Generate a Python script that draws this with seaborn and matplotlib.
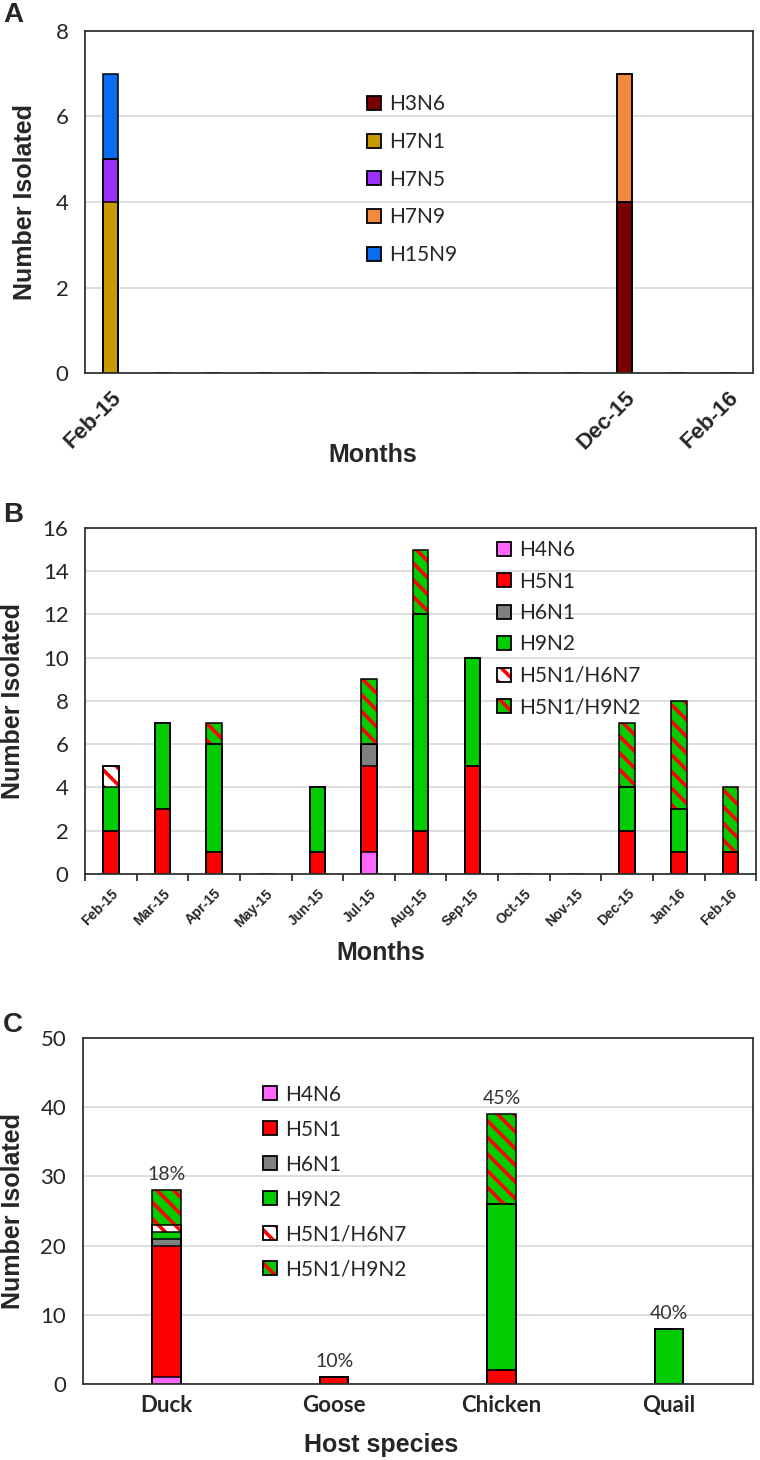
"""
Avian influenza isolates: subtypes by month (A, B) and by host species (C).
Stacked bars drawn with seaborn by overlaying cumulative totals.
"""

import numpy as np
import pandas as pd
import matplotlib
matplotlib.use("Agg")
import matplotlib.pyplot as plt
import seaborn as sns
from matplotlib.patches import Patch
from matplotlib.legend_handler import HandlerTuple

# ==================================================
# 1. DATA
# ==================================================
months = ["Feb-15", "Mar-15", "Apr-15", "May-15", "Jun-15", "Jul-15", "Aug-15",
          "Sep-15", "Oct-15", "Nov-15", "Dec-15", "Jan-16", "Feb-16"]
a_tick_labels = ["Feb-15", "Dec-15", "Feb-16"]

# panel A subtypes (stack order bottom -> top)
a_subtypes = ["H3N6", "H7N1", "H7N5", "H7N9", "H15N9"]
a_H3N6  = [0, 0, 0, 0, 0, 0, 0, 0, 0, 0, 4, 0, 0]
a_H7N1  = [4, 0, 0, 0, 0, 0, 0, 0, 0, 0, 0, 0, 0]
a_H7N5  = [1, 0, 0, 0, 0, 0, 0, 0, 0, 0, 0, 0, 0]
a_H7N9  = [0, 0, 0, 0, 0, 0, 0, 0, 0, 0, 3, 0, 0]
a_H15N9 = [2, 0, 0, 0, 0, 0, 0, 0, 0, 0, 0, 0, 0]

# panel B / C subtypes
bc_subtypes = ["H4N6", "H5N1", "H6N1", "H9N2", "H5N1/H6N7", "H5N1/H9N2"]
b_H4N6      = [0, 0, 0, 0, 0, 1, 0, 0, 0, 0, 0, 0, 0]
b_H5N1      = [2, 3, 1, 0, 1, 4, 2, 5, 0, 0, 2, 1, 1]
b_H6N1      = [0, 0, 0, 0, 0, 1, 0, 0, 0, 0, 0, 0, 0]
b_H9N2      = [2, 4, 5, 0, 3, 0, 10, 5, 0, 0, 2, 2, 0]
b_H5N1_H6N7 = [1, 0, 0, 0, 0, 0, 0, 0, 0, 0, 0, 0, 0]
b_H5N1_H9N2 = [0, 0, 1, 0, 0, 3, 3, 0, 0, 0, 3, 5, 3]

hosts = ["Duck", "Goose", "Chicken", "Quail"]
c_H4N6      = [1, 0, 0, 0]
c_H5N1      = [19, 1, 2, 0]
c_H6N1      = [1, 0, 0, 0]
c_H9N2      = [1, 0, 24, 8]
c_H5N1_H6N7 = [1, 0, 0, 0]
c_H5N1_H9N2 = [5, 0, 13, 0]
c_pct_labels = ["18%", "10%", "45%", "40%"]

# ==================================================
# 2. STYLE
# ==================================================
a_colors = ["#7a0000", "#c89a00", "#9b30ff", "#f28a3e", "#0b6cf2"]
bc_colors = ["#ff66ff", "#ff0000", "#808080", "#00cc00", "#ffffff", "#00cc00"]
bc_hatches = [None, None, None, None, "\\\\", "\\\\"]
HATCH_RED = "#ff0000"

sns.set_theme(style="white")
plt.rcParams["font.family"] = ["Lato", "DejaVu Sans"]
plt.rcParams["hatch.linewidth"] = 2.6
LABEL_FONT = dict(family="Liberation Sans", weight="bold")


def stacked(ax, cats, names, layers, colors, hatches, width):
    """Draw stacked bars: cumulative totals overlaid top-down, then outlines."""
    df = pd.DataFrame(dict(zip(names, layers)), index=cats)
    cum = df.cumsum(axis=1)
    for i in reversed(range(len(names))):
        h = hatches[i]
        sns.barplot(x=cats, y=cum[names[i]].values, order=cats, ax=ax,
                    color=colors[i], saturation=1, width=width, errorbar=None,
                    linewidth=0, edgecolor=HATCH_RED if h else "none", hatch=h)
    for i in range(len(names)):
        sns.barplot(x=cats, y=cum[names[i]].values, order=cats, ax=ax,
                    color="black", fill=False, width=width, errorbar=None,
                    linewidth=1.1)
    return ax.containers[-1]


def legend_handles(colors, hatches):
    handles = []
    for c, h in zip(colors, hatches):
        fill = Patch(facecolor=c, edgecolor=HATCH_RED if h else "none",
                     hatch=h, linewidth=0)
        edge = Patch(facecolor="none", edgecolor="black", linewidth=1.3)
        handles.append((fill, edge))
    return handles


def add_legend(ax, handles, labels, anchor, spacing):
    ax.legend(handles, labels, handler_map={tuple: HandlerTuple(ndivide=1)},
              loc="upper left", bbox_to_anchor=anchor, frameon=False,
              fontsize=15, handlelength=0.65, handleheight=0.65,
              handletextpad=0.4, labelspacing=spacing, borderpad=0,
              borderaxespad=0)


def frame(ax, ymax, step):
    ax.set_ylim(0, ymax)
    ax.set_yticks(np.arange(0, ymax + 0.1, step))
    ax.yaxis.grid(True, color="#dedede", linewidth=1.4)
    ax.set_axisbelow(True)
    for s in ax.spines.values():
        s.set_color("#333333")
        s.set_linewidth(1.3)
    ax.tick_params(axis="y", labelsize=16, pad=6)
    ax.set_ylabel("Number Isolated", fontsize=18, **LABEL_FONT)


fig = plt.figure(figsize=(7.6, 14.6), dpi=100)
axA = fig.add_axes([0.112, 0.7445, 0.879, 0.2343])
axB = fig.add_axes([0.112, 0.4014, 0.883, 0.2370])
axC = fig.add_axes([0.109, 0.0521, 0.8816, 0.2370])

# ==================================================
# 3. PANEL A
# ==================================================
stacked(axA, months, a_subtypes, [a_H3N6, a_H7N1, a_H7N5, a_H7N9, a_H15N9],
        a_colors, [None] * 5, 0.29)
frame(axA, 8, 2)
axA.set_xticks([months.index(m) for m in a_tick_labels])
axA.set_xticklabels(a_tick_labels, rotation=45, ha="right",
                    rotation_mode="anchor", fontsize=16, **LABEL_FONT)
axA.tick_params(axis="x", length=0, pad=10)
axA.set_xlabel("Months", fontsize=18, **LABEL_FONT)
axA.xaxis.set_label_coords(0.43, -0.205)
axA.yaxis.set_label_coords(-0.072, 0.5)
add_legend(axA, legend_handles(a_colors, [None] * 5), a_subtypes,
           (0.422, 0.815), 0.85)

# ==================================================
# 4. PANEL B
# ==================================================
stacked(axB, months, bc_subtypes,
        [b_H4N6, b_H5N1, b_H6N1, b_H9N2, b_H5N1_H6N7, b_H5N1_H9N2],
        bc_colors, bc_hatches, 0.3)
frame(axB, 16, 2)
axB.set_xticks(range(len(months)))
axB.set_xticklabels(months, rotation=45, ha="right", rotation_mode="anchor",
                    fontsize=10, **LABEL_FONT)
axB.set_xticks(np.arange(-0.5, len(months), 1), minor=True)
axB.tick_params(axis="x", which="major", length=0, pad=9)
axB.tick_params(axis="x", which="minor", bottom=True, length=5, width=1.3,
                color="#333333", direction="out")
axB.set_xlabel("Months", fontsize=18, **LABEL_FONT)
axB.xaxis.set_label_coords(0.44, -0.195)
axB.yaxis.set_label_coords(-0.089, 0.5)
add_legend(axB, legend_handles(bc_colors, bc_hatches), bc_subtypes,
           (0.614, 0.965), 0.55)

# ==================================================
# 5. PANEL C
# ==================================================
totals = stacked(axC, hosts, bc_subtypes,
                 [c_H4N6, c_H5N1, c_H6N1, c_H9N2, c_H5N1_H6N7, c_H5N1_H9N2],
                 bc_colors, bc_hatches, 0.17)
axC.bar_label(totals, labels=c_pct_labels, padding=5, fontsize=14,
              color="#333333")
frame(axC, 50, 10)
axC.set_xticks(range(len(hosts)))
axC.set_xticklabels(hosts, fontsize=16, family="Lato", weight="bold")
axC.tick_params(axis="x", length=0, pad=8)
axC.set_xlabel("Host species", fontsize=18, **LABEL_FONT)
axC.xaxis.set_label_coords(0.445, -0.142)
axC.yaxis.set_label_coords(-0.087, 0.5)
add_legend(axC, legend_handles(bc_colors, bc_hatches), bc_subtypes,
           (0.269, 0.865), 0.72)

# panel letters
for letter, y in [("A", 0.9897), ("B", 0.6473), ("C", 0.2979)]:
    fig.text(0.017, y, letter, fontsize=20, ha="center", va="center",
             **LABEL_FONT)

fig.savefig("out.png", dpi=100)
